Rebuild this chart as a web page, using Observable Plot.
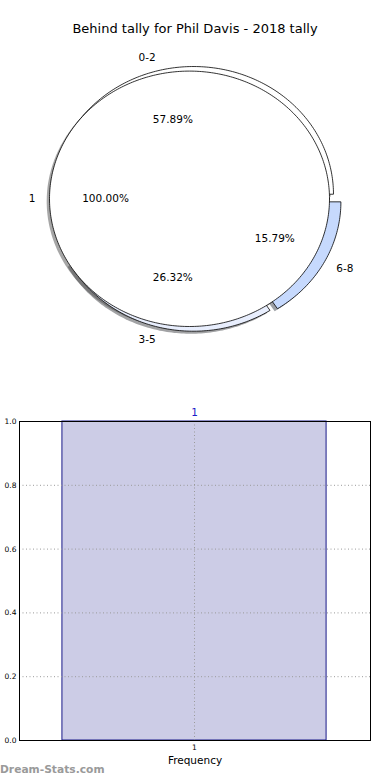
<!DOCTYPE html>
<html>
<head>
<meta charset="utf-8">
<script src="https://cdn.jsdelivr.net/npm/d3@7"></script>
<script src="https://cdn.jsdelivr.net/npm/@observablehq/plot@0.6"></script>
<style>
  html, body { margin: 0; padding: 0; background: #fff; }
  #wrap { position: relative; width: 390px; height: 780px; overflow: hidden; font-family: "DejaVu Sans", sans-serif; }
  #title { position: absolute; left: 0; width: 390px; top: 21px; text-align: center; font-size: 13px; color: #000; }
  #pie { position: absolute; left: 0; top: 0; }
  #bar { position: absolute; left: 0; top: 400px; }
  #mark { position: absolute; left: 0; top: 763px; font-size: 10.7px; font-weight: bold; color: #9a9a9a; }
</style>
</head>
<body>
<div id="wrap">
  <div id="pie"></div>
  <div id="title">Behind tally for Phil Davis - 2018 tally</div>
  <div id="bar"></div>
  <div id="mark">Dream-Stats.com</div>
</div>
<script>
// ---- data ----
const pieLabels = ["0-2", "3-5", "6-8"];
const pieValues = [11, 5, 3];
const pieColors = ["#ffffff", "#e8eefd", "#c6d9fd"];
const pieExplode = [0.037, 0.038, 0.05];
const innerLabels = ["1"];
const innerValues = [1];
const innerColors = ["#ffffff"];
const innerExplode = [0.0375];

const barCategories = ["1"];
const barValues = [1];
const yTicks = [0, 0.2, 0.4, 0.6, 0.8, 1.0];

// ---- pie geometry (data units, matplotlib style: start 0°, counter-clockwise) ----
const font = "DejaVu Sans";
function buildPie(labels, values, colors, explode) {
  const total = d3.sum(values);
  let acc = 0;
  return values.map((v, i) => {
    const a0 = acc / total * 2 * Math.PI;
    acc += v;
    const a1 = acc / total * 2 * Math.PI;
    const mid = (a0 + a1) / 2;
    const cx = explode[i] * Math.cos(mid), cy = explode[i] * Math.sin(mid);
    const full = Math.abs(a1 - a0 - 2 * Math.PI) < 1e-9;
    const pts = [];
    if (!full) pts.push([cx, cy]);
    const n = Math.max(8, Math.ceil((a1 - a0) / (Math.PI / 180)));
    for (let k = 0; k <= n; k++) {
      const a = a0 + (a1 - a0) * k / n;
      pts.push([cx + Math.cos(a), cy + Math.sin(a)]);
    }
    pts.push(pts[0]);
    const c = d3.rgb(colors[i]);
    return {
      label: labels[i], pct: (v / total * 100).toFixed(2) + "%",
      color: colors[i], shadow: d3.rgb(c.r * 0.3, c.g * 0.3, c.b * 0.3).toString(),
      pts, mid, cx, cy
    };
  });
}
const outer = buildPie(pieLabels, pieValues, pieColors, pieExplode);
const inner = buildPie(innerLabels, innerValues, innerColors, innerExplode);
const allW = outer.concat(inner);
const sh = 0.02;

const pieMarks = [];
// shadows first (below all wedges)
for (const w of allW) {
  pieMarks.push(Plot.line(w.pts, {x: d => d[0] - sh, y: d => d[1] - sh, fill: w.shadow, fillOpacity: 0.5, stroke: "none"}));
}
for (const w of allW) {
  pieMarks.push(Plot.line(w.pts, {x: d => d[0], y: d => d[1], fill: w.color, stroke: "#000", strokeWidth: 0.8}));
}
const labelRows = allW.map(w => ({
  label: w.label, pct: w.pct,
  lx: w.cx + 1.1 * Math.cos(w.mid), ly: w.cy + 1.1 * Math.sin(w.mid),
  px: w.cx + 0.6 * Math.cos(w.mid), py: w.cy + 0.6 * Math.sin(w.mid)
}));
const txt = {fontFamily: font, fontSize: 10.5, fill: "#000", lineAnchor: "middle"};
pieMarks.push(Plot.text(labelRows.filter(d => d.lx > 0), {x: "lx", y: "ly", text: "label", textAnchor: "start", ...txt}));
pieMarks.push(Plot.text(labelRows.filter(d => d.lx <= 0), {x: "lx", y: "ly", text: "label", textAnchor: "end", ...txt}));
pieMarks.push(Plot.text(labelRows, {x: "px", y: "py", text: "pct", textAnchor: "middle", ...txt}));

const pieCx = 194.25, pieCy = 198.3, ux = 140, uy = 127.7, pieW = 390, pieH = 390;
const piePlot = Plot.plot({
  width: pieW, height: pieH,
  margin: 0,
  x: {domain: [-pieCx / ux, (pieW - pieCx) / ux], axis: null},
  y: {domain: [-(pieH - pieCy) / uy, pieCy / uy], axis: null},
  style: {background: "transparent", overflow: "visible"},
  marks: pieMarks
});
document.getElementById("pie").appendChild(piePlot);

// ---- bar chart ----
const barData = barCategories.map((c, i) => ({cat: c, pos: i + 1, value: barValues[i]}));
const barPlot = Plot.plot({
  width: 390, height: 380,
  marginLeft: 19, marginRight: 20, marginTop: 21, marginBottom: 40,
  style: {fontFamily: font, background: "transparent", overflow: "visible"},
  x: {domain: [0.47, 1.533], axis: null, label: null},
  y: {domain: [0, 1], axis: null, label: null},
  marks: [
    Plot.rect(barData, {x1: d => d.pos - 0.4, x2: d => d.pos + 0.4, y1: 0, y2: "value", fill: "#ccccE6", stroke: "#1a1a8a", strokeWidth: 1}),
    Plot.gridY(yTicks, {stroke: "#9a9a9a", strokeOpacity: 1, strokeDasharray: "1,2.5"}),
    Plot.gridX(barData.map(d => d.pos), {stroke: "#9a9a9a", strokeOpacity: 1, strokeDasharray: "1,2.5"}),
    Plot.axisY(yTicks, {tickSize: 0, tickPadding: 3, tickFormat: d3.format(".1f"), fontSize: 7.5, fill: "#000", label: null}),
    Plot.axisX(barData.map(d => d.pos), {tickSize: 0, tickPadding: 4, tickFormat: (d) => barCategories[d - 1], fontSize: 7.5, fill: "#000", label: null}),
    Plot.frame({stroke: "#000", strokeWidth: 1}),
    Plot.text(barData, {x: "pos", frameAnchor: "top", dy: -9, text: "cat", fill: "#1c1cc8", fontSize: 10.5, lineAnchor: "middle"}),
    Plot.text(["Frequency"], {frameAnchor: "bottom", dy: 20, text: d => d, fontSize: 10.5, fill: "#000", lineAnchor: "middle"})
  ]
});
document.getElementById("bar").appendChild(barPlot);
</script>
</body>
</html>
